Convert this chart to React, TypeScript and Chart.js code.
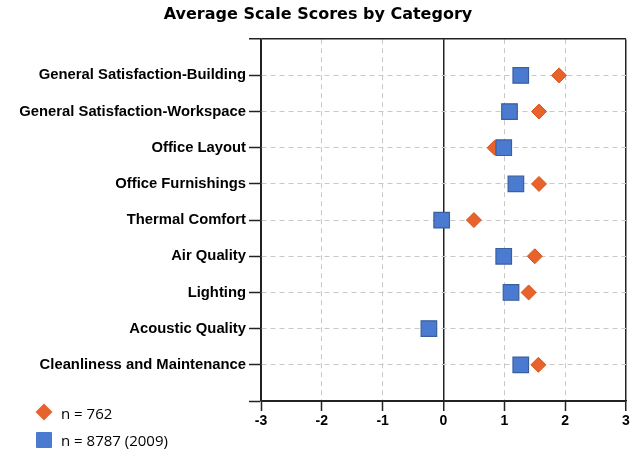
import React, { useEffect, useRef } from "react";
import { Chart, registerables } from "chart.js";

Chart.register(...registerables);

const categories = [
  "General Satisfaction-Building",
  "General Satisfaction-Workspace",
  "Office Layout",
  "Office Furnishings",
  "Thermal Comfort",
  "Air Quality",
  "Lighting",
  "Acoustic Quality",
  "Cleanliness and Maintenance",
];

const scoresN762: (number | null)[] = [1.9, 1.57, 0.84, 1.57, 0.5, 1.5, 1.4, null, 1.56];
const scoresN8787: (number | null)[] = [1.27, 1.085, 0.99, 1.19, -0.03, 0.99, 1.11, -0.24, 1.27];

const seriesLabels = ["n = 762", "n = 8787 (2009)"];
const xTicks = [-3, -2, -1, 0, 1, 2, 3];

const ORANGE = "#e8632b";
const BLUE = "#4a7bd0";

function toPoints(values: (number | null)[]) {
  const pts: { x: number; y: number }[] = [];
  values.forEach((v, i) => {
    if (v !== null) pts.push({ x: v, y: i + 1 });
  });
  return pts;
}

export default function App() {
  const ref = useRef<HTMLCanvasElement | null>(null);

  useEffect(() => {
    if (!ref.current) return;
    const dark = "#222222";
    const grid = "#c8c8c8";
    const chart = new Chart(ref.current, {
      type: "scatter",
      data: {
        datasets: [
          {
            label: seriesLabels[0],
            data: toPoints(scoresN762),
            pointStyle: "rectRot",
            pointRadius: 7.5,
            pointHoverRadius: 7.5,
            backgroundColor: ORANGE,
            borderColor: "#d4541f",
            borderWidth: 1,
            order: 1,
          },
          {
            label: seriesLabels[1],
            data: toPoints(scoresN8787),
            pointStyle: "rect",
            pointRadius: 11,
            pointHoverRadius: 11,
            backgroundColor: BLUE,
            borderColor: "#3a5f9e",
            borderWidth: 1.2,
            order: 0,
          },
        ],
      },
      options: {
        responsive: false,
        animation: false,
        devicePixelRatio: 1,
        layout: { autoPadding: false, padding: { left: 10, right: 4, top: 0, bottom: 0 } },
        plugins: {
          legend: { display: false },
          tooltip: { enabled: false },
          title: {
            display: true,
            text: "Average Scale Scores by Category",
            color: "#000",
            font: { family: "'DejaVu Sans', Verdana, sans-serif", size: 16, weight: "bold" },
            padding: { top: 5, bottom: 15 },
          },
        },
        scales: {
          x: {
            type: "linear",
            min: xTicks[0],
            max: xTicks[xTicks.length - 1],
            afterBuildTicks: (scale: any) => {
              scale.ticks = xTicks.map((v) => ({ value: v }));
            },
            afterFit: (scale: any) => {
              scale.height = 49;
              scale.paddingLeft = 0;
              scale.paddingRight = 0;
            },
            ticks: {
              color: "#000",
              padding: 2,
              font: { family: "'Liberation Sans', Arial, sans-serif", size: 14, weight: "bold" },
            },
            grid: {
              color: (ctx: any) => {
                const v = ctx.tick ? ctx.tick.value : null;
                return v === 0 || v === 3 || v === -3 ? dark : grid;
              },
              lineWidth: (ctx: any) => {
                const v = ctx.tick ? ctx.tick.value : null;
                return v === 0 || v === 3 ? 1.5 : 1;
              },
              tickLength: 10,
              tickColor: dark,
              tickWidth: 1.5,
            },
            border: {
              display: true,
              color: dark,
              width: 1.5,
              dash: (ctx: any) => {
                const v = ctx.tick ? ctx.tick.value : null;
                return v === 0 || v === 3 || v === -3 ? [] : [5, 4];
              },
            },
          },
          y: {
            type: "linear",
            reverse: true,
            min: 0,
            max: categories.length + 1,
            afterBuildTicks: (scale: any) => {
              const t = [];
              for (let i = 0; i <= categories.length + 1; i++) t.push({ value: i });
              scale.ticks = t;
            },
            afterFit: (scale: any) => {
              scale.width = 251;
              scale.paddingTop = 0;
              scale.paddingBottom = 0;
            },
            ticks: {
              color: "#000",
              padding: 3,
              font: { family: "'Liberation Sans', Arial, sans-serif", size: 14.8, weight: "bold" },
              callback: (value: any) => {
                const i = Number(value);
                return i >= 1 && i <= categories.length ? categories[i - 1] : "";
              },
            },
            grid: {
              color: (ctx: any) => {
                const v = ctx.tick ? ctx.tick.value : null;
                return v === 0 || v === categories.length + 1 ? dark : grid;
              },
              lineWidth: (ctx: any) => {
                const v = ctx.tick ? ctx.tick.value : null;
                return v === 0 ? 1.5 : 1;
              },
              tickLength: 12,
              tickColor: dark,
              tickWidth: 1.5,
            },
            border: {
              display: true,
              color: dark,
              width: 1.5,
              dash: (ctx: any) => {
                const v = ctx.tick ? ctx.tick.value : null;
                return v === 0 || v === categories.length + 1 ? [] : [5, 4];
              },
            },
          },
        },
      },
    });
    return () => chart.destroy();
  }, []);

  const legendText: React.CSSProperties = {
    position: "absolute",
    left: 61,
    fontFamily: "'Open Sans', sans-serif",
    fontSize: 15,
    color: "#000",
    lineHeight: "18px",
    whiteSpace: "nowrap",
  };

  return (
    <div style={{ position: "fixed", left: 0, top: 0, width: 630, height: 450, background: "#fff", overflow: "hidden" }}>
      <canvas ref={ref} width={630} height={450} style={{ display: "block" }} />
      <div
        style={{
          position: "absolute",
          left: 38,
          top: 406,
          width: 12,
          height: 12,
          background: ORANGE,
          transform: "rotate(45deg)",
        }}
      />
      <div style={{ ...legendText, top: 404 }}>{seriesLabels[0]}</div>
      <div
        style={{
          position: "absolute",
          left: 36,
          top: 432,
          width: 16,
          height: 16,
          background: BLUE,
          borderRadius: 1,
        }}
      />
      <div style={{ ...legendText, top: 431 }}>{seriesLabels[1]}</div>
    </div>
  );
}
